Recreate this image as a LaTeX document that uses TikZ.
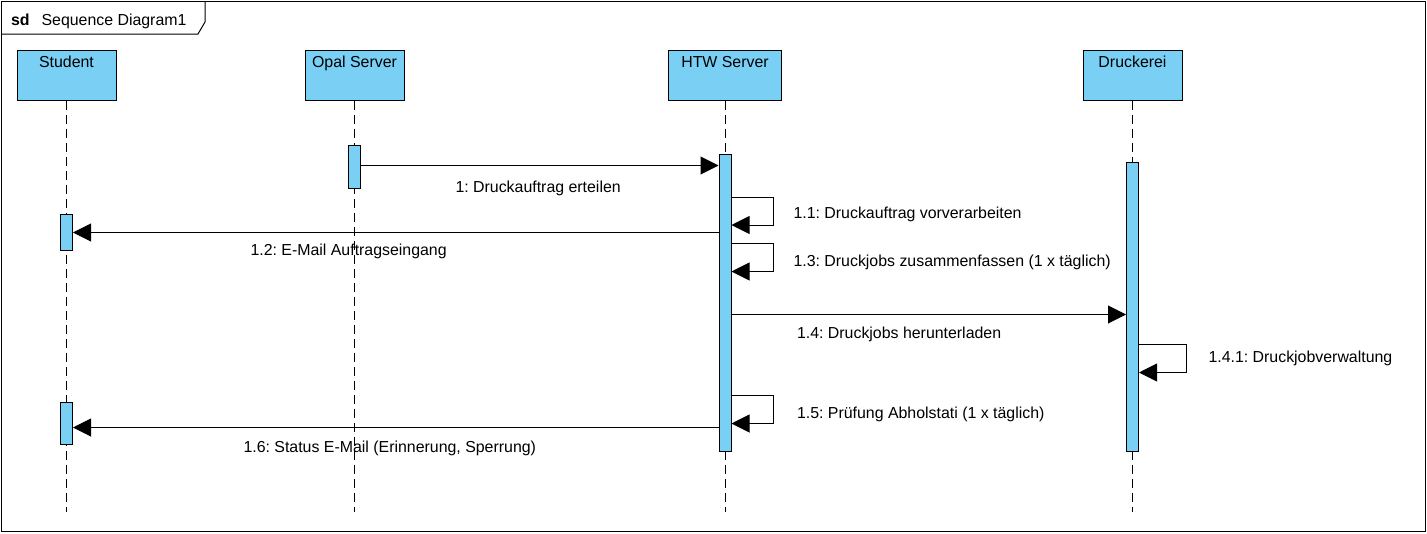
\documentclass[tikz,border=0pt]{standalone}
\usepackage{fontspec}
\setmainfont{Liberation Sans}
\usepackage{tikz}
\usetikzlibrary{arrows.meta,positioning}
\definecolor{vpblue}{RGB}{122,207,245}
\frenchspacing

\begin{document}
\begin{tikzpicture}[x=1pt,y=-1pt,line width=1pt,
  font=\fontsize{15.9}{18}\selectfont,
  head/.style={draw,fill=vpblue,anchor=north,minimum width=99pt,inner sep=3pt,text height=14pt,text depth=30pt},
  act/.style={draw,fill=vpblue,anchor=north,minimum width=12pt,inner sep=0pt},
  lifeline/.style={dash pattern=on 9pt off 5pt},
  msg/.style={-{Triangle[length=18pt,width=18pt]}},
  lbl/.style={anchor=base west,inner sep=0pt}]
 \useasboundingbox (0,0) rectangle (1427,533);
 % frame
 \draw (1,1) rectangle (1425,531);
 \draw (1,34) -- (198,34) -- (205,22) -- (205,1);
 \node[lbl] (title) at (10.5,25) {\textbf{sd}\hspace{12pt}Sequence Diagram1};
 % lifelines
 \node[head] (hStu) at (66.5,49.5) {Student};
 \node[head] (hOpal) at (354.5,49.5) {Opal Server};
 \node[head,minimum width=113pt] (hHTW) at (725,49.5) {HTW Server};
 \node[head] (hDru) at (1132.5,49.5) {Druckerei};
 \draw[lifeline] (hStu) -- (hStu |- 0,512);
 \draw[lifeline] (hOpal) -- (hOpal |- 0,512);
 \draw[lifeline] (hHTW) -- (hHTW |- 0,512);
 \draw[lifeline] (hDru) -- (hDru |- 0,512);
 % activations
 \node[act,minimum height=43pt] (aOpal) at (hOpal.south |- 0,145) {};
 \node[act,minimum height=297pt] (aHTW) at (hHTW.south |- 0,154) {};
 \node[act,minimum height=289.5pt] (aDru) at (hDru.south |- 0,161.5) {};
 \node[act,minimum height=35.5pt] (aStu1) at (hStu.south |- 0,214) {};
 \node[act,minimum height=42pt] (aStu2) at (hStu.south |- 0,402) {};
 % messages
 \draw[msg] (aOpal.east |- 0,165.5) -- (aHTW.west |- 0,165.5);
 \node[lbl] (l1) at (455,192) {1: Druckauftrag erteilen};
 \draw[msg] (aHTW.east |- 0,197) -- ++(42,0) |- (aHTW.east |- 0,225);
 \node[lbl] (l11) at (793,218) {1.1: Druckauftrag vorverarbeiten};
 \draw[msg] (aHTW.west |- 0,232.5) -- (aStu1.east |- 0,232.5);
 \node[lbl] (l12) at (250,255.5) {1.2: E-Mail Auftragseingang};
 \draw[msg] (aHTW.east |- 0,243.5) -- ++(42,0) |- (aHTW.east |- 0,271.5);
 \node[lbl] (l13) at (793,266) {1.3: Druckjobs zusammenfassen (1 x täglich)};
 \draw[msg] (aHTW.east |- 0,314.5) -- (aDru.west |- 0,314.5);
 \node[lbl] (l14) at (796.5,338.5) {1.4: Druckjobs herunterladen};
 \draw[msg] (aDru.east |- 0,344) -- ++(47,0) |- (aDru.east |- 0,372.5);
 \node[lbl] (l141) at (1208,362) {1.4.1: Druckjobverwaltung};
 \draw[msg] (aHTW.east |- 0,395.5) -- ++(42,0) |- (aHTW.east |- 0,423.5);
 \node[lbl] (l15) at (796.5,418.5) {1.5: Prüfung Abholstati (1 x täglich)};
 \draw[msg] (aHTW.west |- 0,427.5) -- (aStu2.east |- 0,427.5);
 \node[lbl] (l16) at (243,452.5) {1.6: Status E-Mail (Erinnerung, Sperrung)};
\end{tikzpicture}
\end{document}
